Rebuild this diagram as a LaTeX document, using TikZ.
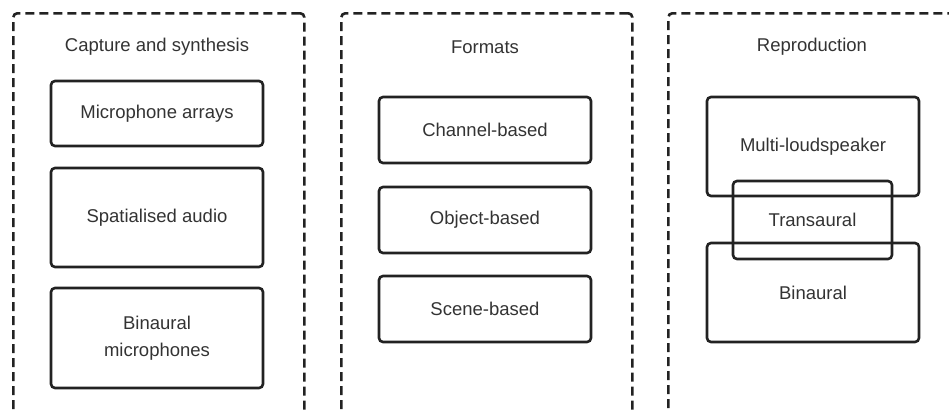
\documentclass[tikz,border=0pt]{standalone}
\usepackage{fontspec}
\setmainfont{Liberation Sans}
\usepackage{tikz}

\definecolor{linecol}{HTML}{222222}
\definecolor{textcol}{HTML}{333333}

\tikzset{
  group/.style={draw=linecol, line width=2.6pt, dash pattern=on 9pt off 5pt,
    rounded corners=4pt, anchor=north west, inner sep=0pt},
  item/.style={draw=linecol, line width=2.6pt, rounded corners=4pt, text=textcol,
    font=\fontsize{18.5}{27}\selectfont, align=center, inner sep=0pt,
    minimum width=212pt},
  title/.style={text=textcol, font=\fontsize{18.5}{27}\selectfont}
}

\begin{document}
\begin{tikzpicture}
  [x=1pt, y=-1pt]
  \useasboundingbox (0, 0) rectangle (949, 410);
  \clip (0, 0) rectangle (949, 410);

  % dashed groups
  \node[group, minimum width=291pt, minimum height=430pt] (g1) at (12, 12) {};
  \node[group, minimum width=291pt, minimum height=430pt] (g2) at (340, 12) {};
  \node[group, minimum width=320pt, minimum height=430pt] (g3) at (667, 12) {};

  \node[title] (t1) at (157, 47) {Capture and synthesis};
  \node[title] (t2) at (485, 47) {Formats};
  \node[title] (t3) at (812, 47) {Reproduction};

  % capture and synthesis
  \node[item, minimum height=65pt] (mic) at (157, 113.5) {Microphone arrays};
  \node[item, minimum height=99pt] (spat) at (157, 217.5) {Spatialised audio};
  \node[item, minimum height=100pt] (bmic) at (157, 338) {Binaural\\microphones};

  % formats
  \node[item, minimum height=66pt] (chan) at (485, 130) {Channel-based};
  \node[item, minimum height=66pt] (obj) at (485, 220) {Object-based};
  \node[item, minimum height=66pt] (scene) at (485, 309) {Scene-based};

  % reproduction
  \node[item, minimum height=99pt] (multi) at (813, 146.5) {Multi-loudspeaker};
  \node[item, minimum height=99pt] (bin) at (813, 292.5) {Binaural};
  \node[item, minimum width=159pt, minimum height=78pt] (trans) at (812.5, 220) {Transaural};
\end{tikzpicture}
\end{document}
